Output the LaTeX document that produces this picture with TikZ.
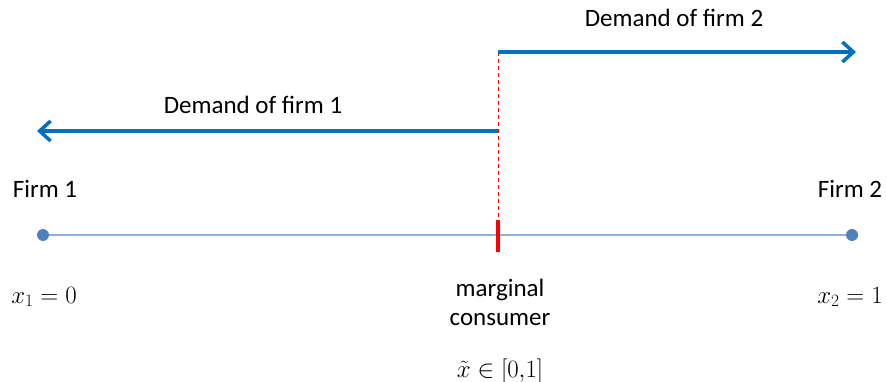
\documentclass[tikz,border=0pt]{standalone}
\usepackage{fontspec}
\setmainfont{Carlito}
\usetikzlibrary{arrows.meta}
\definecolor{dblue}{HTML}{0070C0}
\definecolor{lineblue}{HTML}{8DB0DC}
\definecolor{dotblue}{HTML}{4F81BD}
\tikzset{
  lbl/.style={font=\fontsize{25}{29}\selectfont, inner sep=0pt},
  mlbl/.style={font=\fontsize{27}{30}\selectfont, inner sep=0pt},
  demand/.style={draw=dblue, line width=4pt, -{Straight Barb[length=11pt,width=20pt,line width=3.5pt]}},
  firmdot/.style={circle, fill=dotblue, minimum size=12pt, inner sep=0pt},
}
\begin{document}
\begin{tikzpicture}[x=1pt,y=-1pt]
\useasboundingbox (0,0) rectangle (887,382);
% axis
\node[firmdot] (f1) at (43,235) {};
\node[firmdot] (f2) at (852,235) {};
\draw[lineblue, line width=1.3pt] (f1) -- (f2);
% marginal consumer
\coordinate (tb) at (498,220);
\coordinate (tt) at (498,252);
\coordinate (m2) at (498,52);
\coordinate (m1) at (498,131);
\coordinate (e2) at (856,52);
\coordinate (e1) at (37,131);
\draw[red, line width=1pt, dash pattern=on 4pt off 3pt] (m2) -- (tb);
\draw[red, line width=4.5pt] (tb) -- (tt);
% demand arrows
\draw[demand] (m2) -- (e2);
\draw[demand] (m1) -- (e1);
% labels
\node[lbl] (d2) at (674,18) {Demand of firm 2};
\node[lbl] (d1) at (253,105) {Demand of firm 1};
\node[lbl] (n1) at (45,189) {Firm 1};
\node[lbl] (n2) at (850,189) {Firm 2};
\node[mlbl] (x1) at (44,297) {$x_1=0$};
\node[mlbl] (x2) at (850,297) {$x_2=1$};
\node[lbl, align=center] (mc) at (500,302) {marginal\\consumer};
\node[mlbl] (xt) at (500,371) {$\tilde{x}\in[0{,}1]$};
\end{tikzpicture}
\end{document}
